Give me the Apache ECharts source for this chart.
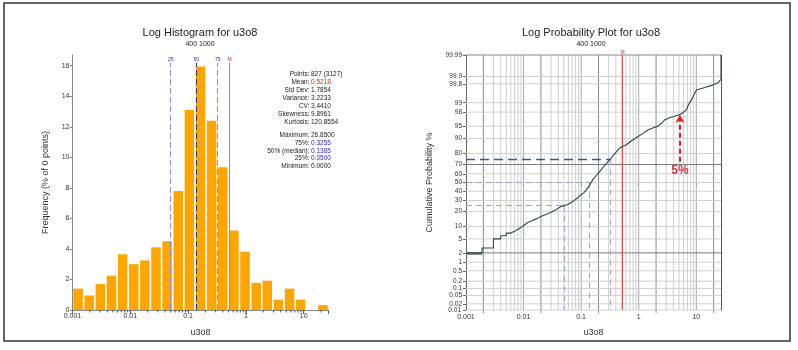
<!DOCTYPE html>
<html><head><meta charset="utf-8">
<script src="https://cdn.jsdelivr.net/npm/echarts@6/dist/echarts.min.js"></script>
<style>html,body{margin:0;padding:0;background:#fff}#c{width:798px;height:350px}</style>
</head><body><div id="c"></div>
<script>
// ---------- data ----------
const binEdges = [0.001, 0.001558, 0.002427, 0.003782, 0.005893, 0.009181, 0.01430, 0.02229, 0.03472, 0.05410, 0.08429, 0.1313, 0.2046, 0.3188, 0.4967, 0.7738, 1.2056, 1.878, 2.926, 4.559, 7.103, 11.06, 17.24, 26.85];
const freqPct = [1.4, 0.95, 1.7, 2.25, 3.65, 3.0, 3.25, 4.1, 4.5, 7.8, 13.1, 15.95, 12.4, 9.35, 5.2, 3.82, 1.78, 1.92, 0.68, 1.4, 0.68, 0, 0.32];
const statLabels = ['Points:', 'Mean:', 'Std Dev:', 'Variance:', 'CV:', 'Skewness:', 'Kurtosis:', 'Maximum:', '75%:', '50% (median):', '25%:', 'Minimum:'];
const statValues = ['827 (3127)', '0.5218', '1.7854', '3.2233', '3.4410', '9.8961', '120.8554', '26.8500', '0.3255', '0.1385', '0.0500', '0.0000'];
const q25 = 0.05, q50 = 0.1385, q75 = 0.3255, meanVal = 0.5218, minVal = 0.001, maxVal = 26.85;
// cumulative curve (x value, cumulative %), lower part is a staircase
const cdfX = [0.001, 0.0019, 0.0019, 0.003, 0.003, 0.004, 0.004, 0.005, 0.005, 0.006, 0.006, 0.007, 0.007, 0.008, 0.008, 0.009, 0.009, 0.01, 0.0105, 0.012, 0.014, 0.017, 0.02, 0.025, 0.03, 0.036, 0.044, 0.05, 0.0575, 0.066, 0.075, 0.086, 0.098, 0.112, 0.125, 0.138, 0.158, 0.18, 0.206, 0.26, 0.329, 0.40, 0.46, 0.53, 0.60, 0.75, 0.96, 1.2, 1.44, 1.8, 2.16, 2.5, 2.81, 3.5, 4.83, 5.6, 6.75, 7.4, 8.25, 9.0, 10.07, 14.1, 19.7, 24, 26.85, 26.85];
const cdfP = [2.0, 2.0, 2.8, 2.8, 5.0, 5.0, 6.0, 6.0, 7.0, 7.0, 7.8, 7.8, 8.6, 8.6, 9.5, 9.5, 10.5, 10.5, 11.5, 12.3, 13.2, 14.6, 16.0, 17.8, 19.3, 21.2, 24.0, 25.0, 25.8, 27.8, 29.8, 32.5, 35.8, 38.4, 42, 46, 53, 57.5, 62, 69.5, 76, 81, 84, 85.5, 86.3, 88.8, 90.9, 92.5, 93.7, 94.5, 95.0, 95.8, 96.6, 97.1, 97.5, 97.8, 98.3, 98.9, 99.2, 99.45, 99.65, 99.72, 99.78, 99.82, 99.87, 99.99];
const probTicks = [0.01, 0.02, 0.05, 0.1, 0.2, 0.5, 1, 2, 5, 10, 20, 30, 40, 50, 60, 70, 80, 90, 95, 98, 99, 99.8, 99.9, 99.99];
const darkProb = [2, 70];
const arrowX = 5.2, arrowFromP = 72.8, arrowToP = 97.6;

// ---------- helpers ----------
function probit(p){
  const a=[-3.969683028665376e+01,2.209460984245205e+02,-2.759285104469687e+02,1.383577518672690e+02,-3.066479806614716e+01,2.506628277459239e+00];
  const b=[-5.447609879822406e+01,1.615858368580409e+02,-1.556989798598866e+02,6.680131188771972e+01,-1.328068155288572e+01];
  const c=[-7.784894002430293e-03,-3.223964580411365e-01,-2.400758277161838e+00,-2.549732539343734e+00,4.374664141464968e+00,2.938163982698783e+00];
  const d=[7.784695709041462e-03,3.224671290700398e-01,2.445134137142996e+00,3.754408661907416e+00];
  const pl=0.02425, ph=1-pl;
  if(p<pl){const q=Math.sqrt(-2*Math.log(p));return (((((c[0]*q+c[1])*q+c[2])*q+c[3])*q+c[4])*q+c[5])/((((d[0]*q+d[1])*q+d[2])*q+d[3])*q+1);}
  if(p<=ph){const q=p-0.5,r=q*q;return (((((a[0]*r+a[1])*r+a[2])*r+a[3])*r+a[4])*r+a[5])*q/(((((b[0]*r+b[1])*r+b[2])*r+b[3])*r+b[4])*r+1);}
  const q=Math.sqrt(-2*Math.log(1-p));return -(((((c[0]*q+c[1])*q+c[2])*q+c[3])*q+c[4])*q+c[5])/((((d[0]*q+d[1])*q+d[2])*q+d[3])*q+1);
}
const zOf = pct => probit(pct/100);
const zTicks = probTicks.map(zOf);
const zMin = zTicks[0], zMax = zTicks[zTicks.length-1];

// 1..9 x decade values for log grid / minor ticks
const logVals = [];
for (let e=-3; e<=1; e++) for (let m=1; m<=9; m++) {
  const v = +(m*Math.pow(10,e)).toPrecision(3);
  if (v > minVal && v < maxVal) logVals.push([v, m]);
}

const FONT = 'Liberation Sans';
const TXT = '#333';

const histData = freqPct.map((h,i)=>[binEdges[i], binEdges[i+1], h]);
const cdfData = cdfX.map((x,i)=>[x, zOf(cdfP[i])]);

const graphic = [
  {type:'rect', shape:{x:4,y:3,width:786,height:338}, style:{fill:'none', stroke:'#333', lineWidth:1.5}, z:100},
  {type:'text', x:200, y:33, style:{text:'Log Histogram for u3o8', font:'11px '+FONT, fill:'#222', textAlign:'center', textVerticalAlign:'middle'}},
  {type:'text', x:200, y:44, style:{text:'400 1000', font:'7px '+FONT, fill:'#222', textAlign:'center', textVerticalAlign:'middle'}},
  {type:'text', x:591, y:33, style:{text:'Log Probability Plot for u3o8', font:'11px '+FONT, fill:'#222', textAlign:'center', textVerticalAlign:'middle'}},
  {type:'text', x:591, y:44, style:{text:'400 1000', font:'7px '+FONT, fill:'#222', textAlign:'center', textVerticalAlign:'middle'}},
  {type:'text', x:461, y:310, style:{text:'0.01', font:'6.5px '+FONT, fill:TXT, textAlign:'right', textVerticalAlign:'middle'}}
];
const statY = [74.3, 82.5, 90.5, 98.5, 106.5, 114.3, 122.3, 135, 142.8, 150.8, 158.7, 166.5];
statLabels.forEach((l,i)=>{
  graphic.push({type:'text', x:309.5, y:statY[i], style:{text:l, font:'6.5px '+FONT, fill:'#222', textAlign:'right', textVerticalAlign:'middle'}});
  let col = '#222';
  if (i===1) col = '#e02020';
  if (i>=8 && i<=10) col = '#2b2bc8';
  graphic.push({type:'text', x:311, y:statY[i], style:{text:statValues[i], font:'6.5px '+FONT, fill:col, textAlign:'left', textVerticalAlign:'middle'}});
});

const logLabel = v => { const l = Math.log10(v); return Math.abs(l-Math.round(l))<1e-6 ? String(+v.toPrecision(3)) : ''; };

const option = {
  animation:false,
  graphic: graphic,
  grid:[
    {left:72.5, top:55, width:256, height:255},
    {left:466, top:55, width:255, height:255}
  ],
  xAxis:[
    {type:'log', gridIndex:0, min:minVal, max:maxVal, logBase:10,
     name:'u3o8', nameLocation:'middle', nameGap:18, nameTextStyle:{fontFamily:FONT, fontSize:9, color:TXT},
     axisLine:{lineStyle:{color:'#888'}}, axisTick:{show:true, length:4, lineStyle:{color:'#666'}},
     axisLabel:{formatter:logLabel, fontFamily:FONT, fontSize:7, color:TXT, margin:3}, splitLine:{show:false}, minorTick:{show:false}},
    {type:'log', gridIndex:1, min:minVal, max:maxVal, logBase:10,
     name:'u3o8', nameLocation:'middle', nameGap:18, nameTextStyle:{fontFamily:FONT, fontSize:9, color:TXT},
     axisLine:{lineStyle:{color:'#666'}}, axisTick:{show:true, length:3, lineStyle:{color:'#666'}},
     axisLabel:{formatter:logLabel, fontFamily:FONT, fontSize:7, color:TXT, margin:4}, splitLine:{show:false}}
  ],
  yAxis:[
    {type:'value', gridIndex:0, min:0, max:16.7, interval:2,
     name:'Frequency (% of 0 points)', nameLocation:'middle', nameGap:22, nameTextStyle:{fontFamily:FONT, fontSize:9, color:TXT},
     axisLine:{show:true, lineStyle:{color:'#888'}}, axisTick:{show:true, length:3, lineStyle:{color:'#888'}},
     axisLabel:{fontFamily:FONT, fontSize:7, color:TXT, margin:3, showMaxLabel:false}, splitLine:{show:false}},
    {type:'value', gridIndex:1, min:zMin, max:zMax,
     name:'Cumulative Probability %', nameLocation:'middle', nameGap:32, nameTextStyle:{fontFamily:FONT, fontSize:9, color:TXT},
     axisLine:{show:true, lineStyle:{color:'#666'}},
     axisTick:{show:true, length:3, customValues:zTicks, lineStyle:{color:'#666'}},
     axisLabel:{customValues:zTicks, hideOverlap:false, fontFamily:FONT, fontSize:6.5, color:TXT, margin:4,
       formatter: v => { for (let i=1;i<zTicks.length;i++) if (Math.abs(zTicks[i]-v)<1e-6) return String(probTicks[i]); return ''; }},
     splitLine:{show:false}},
    // right/top frame of probability plot
    {type:'value', gridIndex:1, min:zMin, max:zMax, position:'right', axisLine:{show:true, lineStyle:{color:'#555'}}, axisTick:{show:false}, axisLabel:{show:false}, splitLine:{show:false}}
  ],
  series:[
    // histogram bars
    {type:'custom', xAxisIndex:0, yAxisIndex:0, data:histData, encode:{x:[0,1], y:2},
     renderItem:(params, api)=>{
       const p0 = api.coord([api.value(0), api.value(2)]);
       const p1 = api.coord([api.value(1), 0]);
       return {type:'rect', shape:{x:p0[0]+0.8, y:p0[1], width:Math.max(0,p1[0]-p0[0]-1.6), height:p1[1]-p0[1]}, style:{fill:'#FFA500'}};
     },
     markLine:{silent:true, symbol:'none', animation:false,
       data:[
         [{coord:[q25,0], lineStyle:{color:'#8f8fcf', type:[6,3], width:1}}, {coord:[q25,16.2], label:{show:true, formatter:'25', color:'#2b2bc8'}}],
         [{coord:[q50,0], lineStyle:{color:'#3a3a70', type:[6,3], width:1}}, {coord:[q50,16.2], label:{show:true, formatter:'50', color:'#2b2bc8'}}],
         [{coord:[q75,0], lineStyle:{color:'#8f8fcf', type:[6,3], width:1}}, {coord:[q75,16.2], label:{show:true, formatter:'75', color:'#2b2bc8'}}],
         [{coord:[meanVal,0], lineStyle:{color:'#e07070', type:'solid', width:1}}, {coord:[meanVal,16.2], label:{show:true, formatter:'M', color:'#e02020'}}]
       ],
       label:{position:'end', fontSize:5, fontFamily:FONT, distance:1}
     }},
    // minor ticks under histogram x axis
    {type:'custom', xAxisIndex:0, yAxisIndex:0, data:logVals.map(v=>[v[0],0]), encode:{x:0,y:1}, silent:true,
     renderItem:(params, api)=>{
       const p = api.coord([api.value(0), 0]);
       return {type:'line', shape:{x1:p[0], y1:p[1], x2:p[0], y2:p[1]+2.5}, style:{stroke:'#555', lineWidth:1}};
     }},
    // vertical grid (prob plot)
    {type:'custom', xAxisIndex:1, yAxisIndex:1, data:logVals.map(v=>[v[0], zMin, v[1]]), encode:{x:0,y:1}, silent:true, z:1,
     renderItem:(params, api)=>{
       const x = api.value(0), m = api.value(2);
       const t = api.coord([x, zMax]), b = api.coord([x, zMin]);
       return {type:'line', shape:{x1:t[0], y1:t[1], x2:b[0], y2:b[1]+(m===2?3:0)}, style:{stroke: m===2 ? '#8a8a8a' : (m===1 ? '#a8a8a8' : '#cfcfcf'), lineWidth:1}};
     }},
    // horizontal grid (prob plot)
    {type:'custom', xAxisIndex:1, yAxisIndex:1, data:probTicks.map((p,i)=>[minVal, zTicks[i], darkProb.indexOf(p)>=0?1:0]), encode:{x:0,y:1}, silent:true, z:1,
     renderItem:(params, api)=>{
       const z = api.value(1), k = api.value(2);
       const l = api.coord([minVal, z]), r = api.coord([maxVal, z]);
       return {type:'line', shape:{x1:l[0], y1:l[1], x2:r[0], y2:r[1]}, style:{stroke: k ? '#7a7a7a' : (z===zMax ? '#888' : '#cfcfcf'), lineWidth:1}};
     }},
    // cumulative curve
    {type:'line', xAxisIndex:1, yAxisIndex:1, data:cdfData, symbol:'none', z:5,
     lineStyle:{color:'#2f4540', width:1.1},
     markLine:{silent:true, symbol:'none', animation:false, label:{show:false},
       data:[
         [{coord:[minVal, zOf(2)], lineStyle:{color:'#8a8a8a', width:3, type:'solid'}}, {coord:[0.0019, zOf(2)]}],
         [{coord:[minVal, zOf(75)], lineStyle:{color:'#3d5a8c', width:1.4, type:[9,5]}}, {coord:[q75, zOf(75)]}],
         [{coord:[q75, zOf(75)], lineStyle:{color:'#96aad6', width:1, type:[6,4]}}, {coord:[q75, zMin]}],
         [{coord:[minVal, zOf(50)], lineStyle:{color:'#96aad6', width:1, type:[6,4]}}, {coord:[q50, zOf(50)]}],
         [{coord:[q50, zOf(50)], lineStyle:{color:'#96aad6', width:1, type:[6,4]}}, {coord:[q50, zMin]}],
         [{coord:[minVal, zOf(25)], lineStyle:{color:'#96aad6', width:1, type:[6,4]}}, {coord:[q25, zOf(25)]}],
         [{coord:[q25, zOf(25)], lineStyle:{color:'#96aad6', width:1, type:[6,4]}}, {coord:[q25, zMin]}],
         [{coord:[meanVal, zMin], lineStyle:{color:'#e05050', width:1, type:'solid'}}, {coord:[meanVal, zMax], label:{show:true, position:'end', formatter:'M', fontSize:5, color:'#e02020', distance:0}}],
         [{coord:[arrowX, zOf(arrowFromP)], symbol:'none', lineStyle:{color:'#e5202a', width:2, type:[5,3]},
           label:{show:true, position:'start', formatter:'5%', fontSize:12, fontWeight:'bold', fontFamily:FONT, color:'#e5303a', distance:3}},
          {coord:[arrowX, zOf(arrowToP)], symbol:'arrow', symbolSize:[7,8]}]
       ]}
    }
  ]
};
const chart = echarts.init(document.getElementById('c'), null, {renderer:'canvas'});
chart.setOption(option);
</script></body></html>
